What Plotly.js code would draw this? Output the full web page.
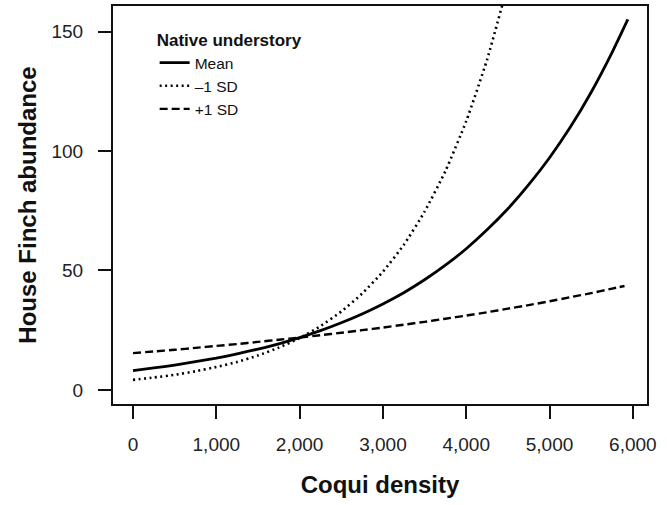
<!DOCTYPE html>
<html>
<head>
<meta charset="utf-8">
<script src="https://cdn.plot.ly/plotly-3.0.1.min.js"></script>
<style>html,body{margin:0;padding:0;background:#fff;}#chart{width:667px;height:505px;}</style>
</head>
<body>
<div id="chart"></div>
<script>
// Coqui density (x) and House Finch abundance (y)
const meanX = [0, 250, 500, 750, 1000, 1250, 1500, 1750, 2000, 2250, 2500, 2750, 3000,
               3250, 3500, 3750, 4000, 4250, 4500, 4750, 5000, 5250, 5500, 5750, 5940];
const meanY = [8.1, 9.2, 10.4, 11.8, 13.3, 15.1, 17.1, 19.3, 21.9, 24.8, 28.1, 31.8, 36.0,
               40.7, 46.1, 52.2, 59.1, 67.0, 75.8, 85.9, 97.2, 110.0, 124.6, 141.2, 155.1];

const lowX = [0, 250, 500, 750, 1000, 1250, 1500, 1750, 2000, 2250, 2500, 2750, 3000,
              3250, 3500, 3750, 4000, 4250, 4500];
const lowY = [4.2, 5.2, 6.3, 7.8, 9.6, 11.7, 14.4, 17.7, 21.7, 26.7, 32.8, 40.3, 49.5,
              60.7, 74.6, 91.6, 112.5, 138.2, 169.7];

const highX = [0, 250, 500, 750, 1000, 1250, 1500, 1750, 2000, 2250, 2500, 2750, 3000,
               3250, 3500, 3750, 4000, 4250, 4500, 4750, 5000, 5250, 5500, 5750, 5900];
const highY = [15.4, 16.1, 16.8, 17.6, 18.4, 19.2, 20.1, 21.0, 21.9, 22.9, 23.9, 25.0, 26.1,
               27.3, 28.5, 29.8, 31.1, 32.5, 34.0, 35.5, 37.1, 38.8, 40.5, 42.4, 43.5];

const seriesNames = ["Mean", "\u20131 SD", "+1 SD"];
const legendTitle = "Native understory";
const xTicks = [0, 1000, 2000, 3000, 4000, 5000, 6000];
const xTickText = ["0", "1,000", "2,000", "3,000", "4,000", "5,000", "6,000"];
const yTicks = [0, 50, 100, 150];

const FONT = "Liberation Sans, Arial, sans-serif";

const traces = [
  {x: meanX, y: meanY, name: seriesNames[0], mode: "lines",
   line: {color: "#000", width: 2.8, shape: "spline", smoothing: 0.5}},
  {x: lowX, y: lowY, name: seriesNames[1], mode: "lines",
   line: {color: "#000", width: 2.6, dash: "2px,3.5px", shape: "spline", smoothing: 0.5}},
  {x: highX, y: highY, name: seriesNames[2], mode: "lines",
   line: {color: "#000", width: 2.4, dash: "8px,4px", shape: "spline", smoothing: 0.5}}
];

const layout = {
  width: 667, height: 505,
  margin: {l: 113, r: 20, t: 6, b: 101},
  paper_bgcolor: "#fff", plot_bgcolor: "#fff",
  font: {family: FONT, color: "#111", size: 16},
  showlegend: true,
  legend: {
    x: 0.078, y: 0.955, xanchor: "left", yanchor: "top",
    bgcolor: "rgba(0,0,0,0)",
    font: {family: FONT, size: 15.5, color: "#111"},
    title: {text: "<b>" + legendTitle + "</b>", font: {family: FONT, size: 17, color: "#111"}},
    tracegroupgap: 0, itemwidth: 30
  },
  xaxis: {
    range: [-240, 6170],
    tickvals: xTicks, ticktext: xTickText,
    ticks: "outside", ticklen: 13, tickwidth: 2, tickcolor: "#111",
    showline: true, linewidth: 2, linecolor: "#111", mirror: true,
    showgrid: false, zeroline: false,
    tickfont: {family: FONT, size: 19, color: "#222"},
    ticklabelstandoff: 9,
    title: {text: "<b>Coqui density</b>", font: {family: FONT, size: 24, color: "#111"}, standoff: 22}
  },
  yaxis: {
    range: [-5.9, 160.7],
    tickvals: yTicks,
    ticks: "outside", ticklen: 13, tickwidth: 2, tickcolor: "#111",
    showline: true, linewidth: 2, linecolor: "#111", mirror: true,
    showgrid: false, zeroline: false,
    tickfont: {family: FONT, size: 19, color: "#222"},
    ticklabelstandoff: 11,
    title: {text: "<b>House Finch abundance</b>", font: {family: FONT, size: 24, color: "#111"}, standoff: 8}
  }
};

Plotly.newPlot("chart", traces, layout, {displayModeBar: false, staticPlot: true});
</script>
</body>
</html>
